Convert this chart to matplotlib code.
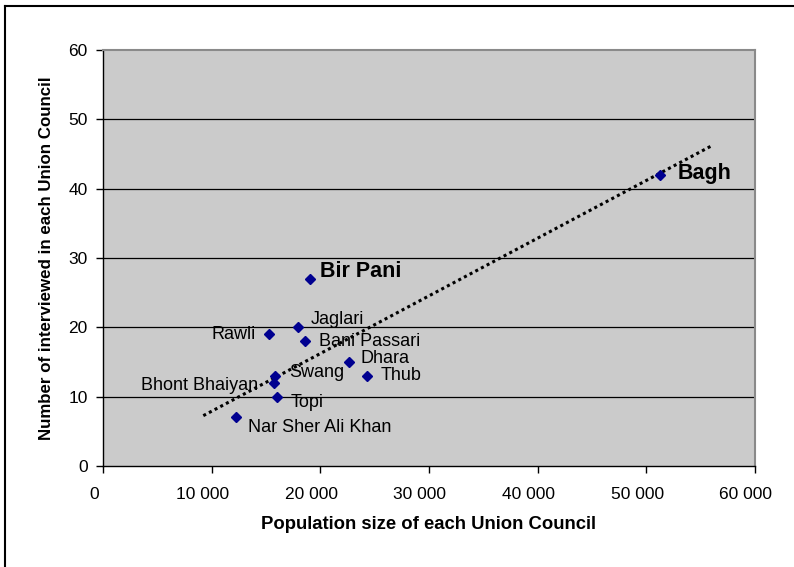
import matplotlib
matplotlib.use("Agg")
import matplotlib.pyplot as plt
from matplotlib.lines import Line2D
from matplotlib.ticker import FuncFormatter
from matplotlib.transforms import ScaledTranslation

# ---- data ----
names = ["Bagh", "Bir Pani", "Jaglari", "Rawli", "Bani Passari", "Dhara",
         "Thub", "Swang", "Bhont Bhaiyan", "Topi", "Nar Sher Ali Khan"]
population = [51300, 19050, 17900, 15250, 18550, 22600,
              24300, 15850, 15750, 16000, 12200]
interviewed = [42, 27, 20, 19, 18, 15, 13, 13, 12, 10, 7]
bold_names = ["Bagh", "Bir Pani"]

# trend line endpoints
trend_x = [9230, 56150]
trend_y = [7.26, 46.3]

x_ticks = [0, 10000, 20000, 30000, 40000, 50000, 60000]
y_ticks = [0, 10, 20, 30, 40, 50, 60]

# label offsets (pixels) and alignment
label_style = {
    "Bagh": (17, 1, "left"),
    "Bir Pani": (10, 7, "left"),
    "Jaglari": (13, 8, "left"),
    "Rawli": (-13, 0, "right"),
    "Bani Passari": (14, 0, "left"),
    "Dhara": (12, 4, "left"),
    "Thub": (14, 0, "left"),
    "Swang": (14, 3, "left"),
    "Bhont Bhaiyan": (-16, -3, "right"),
    "Topi": (14, -6, "left"),
    "Nar Sher Ali Khan": (12, -10, "left"),
}

plt.rcParams["font.family"] = ["Liberation Sans", "DejaVu Sans"]

fig = plt.figure(figsize=(7.94, 5.67), dpi=100)
W, H = 794, 567
ax = fig.add_axes([103 / W, (H - 466) / H, 652 / W, 416 / H])
ax.set_facecolor("#CBCBCB")

ax.set_xlim(0, 60000)
ax.set_ylim(0, 60)
ax.set_xticks(x_ticks)
ax.set_yticks(y_ticks)
ax.xaxis.set_major_formatter(FuncFormatter(lambda v, p: f"{int(v):,}".replace(",", " ")))
ax.tick_params(axis="both", direction="out", length=5, width=1, colors="black",
               labelsize=12.5)
ax.tick_params(axis="x", pad=10)
ax.tick_params(axis="y", pad=6)

# Excel-style labels sit slightly left of their ticks
shift = ScaledTranslation(-9 / 100, 0, fig.dpi_scale_trans)
for lbl in ax.get_xticklabels():
    lbl.set_transform(lbl.get_transform() + shift)

for yv in y_ticks[1:-1]:
    ax.axhline(yv, color="black", lw=0.9, zorder=1)

for s in ["left", "bottom"]:
    ax.spines[s].set_color("black")
    ax.spines[s].set_linewidth(1.0)
for s in ["top", "right"]:
    ax.spines[s].set_color("#8a8a8a")
    ax.spines[s].set_linewidth(1.5)

ax.plot(trend_x, trend_y, linestyle=(0, (1, 1.1)), color="black", lw=2.2, zorder=2)
ax.plot(population, interviewed, linestyle="none", marker="D", markersize=5.2,
        color="#000090", zorder=3)

for n, xv, yv in zip(names, population, interviewed):
    dx, dy, ha = label_style[n]
    bold = n in bold_names
    ax.annotate(n, (xv, yv), xytext=(dx, dy), textcoords="offset pixels",
                ha=ha, va="center", fontsize=15.5 if bold else 13,
                fontweight="bold" if bold else "normal", zorder=4)

ax.set_xlabel("Population size of each Union Council", fontsize=13.3,
              fontweight="bold", labelpad=10)
ax.set_ylabel("Number of interviewed in each Union Council", fontsize=12.2,
              fontweight="bold", labelpad=10.5)

# outer chart border (extends beyond bottom/right of image)
fig.add_artist(Line2D([4.5 / W, 4.5 / W], [0, 1 - 6 / H], color="black", lw=1.5,
                      transform=fig.transFigure))
fig.add_artist(Line2D([4.5 / W, 1.0], [1 - 6 / H, 1 - 6 / H], color="black", lw=1.5,
                      transform=fig.transFigure))

fig.savefig("out.png", dpi=100, facecolor="white")
